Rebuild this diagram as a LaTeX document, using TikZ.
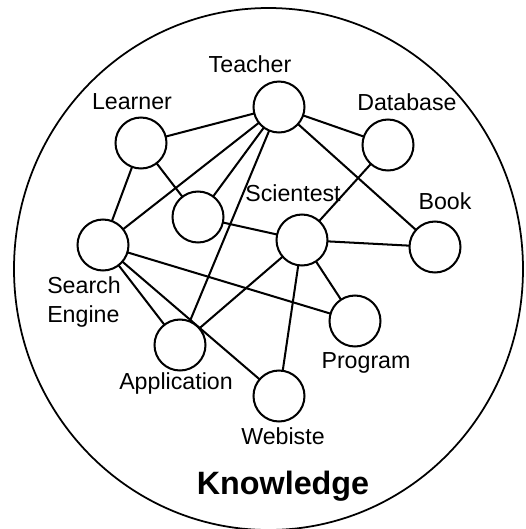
\documentclass[tikz,border=0pt]{standalone}
\usepackage{fontspec}
\setmainfont{Liberation Sans}
\usepackage{tkz-graph}

\tikzset{
  lbl/.style={font=\fontsize{13.2}{16.4}\selectfont, inner sep=0pt}
}

\begin{document}
\begin{tikzpicture}[x=0.02cm, y=-0.02cm]
    \useasboundingbox (0,0) rectangle (526,529);
    \GraphInit[vstyle=Normal]
    %\draw[help lines] (0,0) grid (526,529);
    \draw[line width=1pt] (268.5,269) ellipse [x radius=254.5, y radius=261];
    \SetVertexNormal[FillColor=white, LineColor=black, LineWidth=1.15pt, MinSize=1.02cm, InnerSep=0pt]
    \SetUpEdge[lw=1.15pt, color=black]
    \Vertex[x=279, y=107, NoLabel]{teacher}
    \Vertex[x=141, y=143, NoLabel]{learner}
    \Vertex[x=388, y=145, NoLabel]{database}
    \Vertex[x=198, y=217, NoLabel]{blank} % pas de nom
    \Vertex[x=302, y=240, NoLabel]{scientest}
    \Vertex[x=435, y=247, NoLabel]{book}
    \Vertex[x=103, y=245, NoLabel]{search}
    \Vertex[x=355, y=321, NoLabel]{program}
    \Vertex[x=180, y=345, NoLabel]{application}
    \Vertex[x=279, y=396, NoLabel]{webiste}
    % les arêtes
    \Edges(learner,teacher,database)
    \Edges(teacher,book)
    \Edges(teacher,blank)
    \Edges(teacher,search)
    \Edges(teacher,application)
    \Edges(search,learner,blank,scientest,database)
    \Edges(scientest,book)
    \Edges(scientest,application)
    \Edges(scientest,webiste)
    \Edges(scientest,program)
    \Edges(program,search,application)
    \Edges(search,webiste)
    % les étiquettes
    \node[lbl] (lteacher) at (250,64) {Teacher};
    \node[lbl] (llearner) at (132,102) {Learner};
    \node[lbl] (ldatabase) at (407,102) {Database};
    \node[lbl] (lscientest) at (293,193) {Scientest};
    \node[lbl] (lbook) at (445,201) {Book};
    \node[lbl, align=left] (lsearch) at (84,302) {Search\\Engine};
    \node[lbl] (lprogram) at (366,363) {Program};
    \node[lbl] (lapplication) at (176,383) {Application};
    \node[lbl] (lwebiste) at (283,436) {Webiste};
    \node[font=\fontsize{18.4}{22}\selectfont\bfseries, inner sep=0pt] (lknowledge) at (283,486) {Knowledge};
\end{tikzpicture}
\end{document}
